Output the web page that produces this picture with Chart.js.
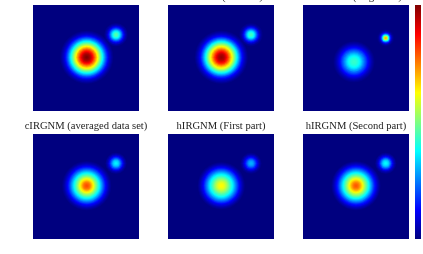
<!DOCTYPE html>
<html>
<head>
<meta charset="utf-8">
<script src="https://cdn.jsdelivr.net/npm/chart.js@4"></script>
<style>
    html, body { margin: 0; padding: 0; background: #fff; overflow: hidden; }
    .panel { position: absolute; width: 106px; height: 106px; }
    .panel canvas { filter: blur(0.4px); }
    .title {
        position: absolute; width: 160px; height: 13px; line-height: 13px; text-align: center;
        font-family: "Liberation Serif", serif; font-size: 10.6px; color: #222; filter: blur(0.3px);
    }
    #colorbar { position: absolute; left: 415px; top: 5px; width: 6px; height: 234px; }
</style>
</head>
<body>
<div id="figure"></div>
<div id="colorbar"><canvas></canvas></div>
<script>
// Panel titles
const panelTitles = ['Truth', 'cIRGNM (first run)', 'cIRGNM (single run)',
    'cIRGNM (averaged data set)', 'hIRGNM (First part)', 'hIRGNM (Second part)'];

// Blob centres in image units (0-106, y down)
const mainCentres = [[53.7, 52.3], [53.3, 52.3], [51, 56.7], [53.7, 52.2], [53.3, 52.2], [53, 52.2]];
const smallCentres = [[83, 29.7], [83, 29.7], [82.7, 33], [83, 29.6], [83, 29.6], [82.7, 29.6]];

// Colour level read at distance 0, 1, 2... from each blob centre
const mainTruth = [1, .995, .98, .965, .94, .91, .87, .83, .78, .73, .68, .63, .57, .52, .47, .42, .37, .32, .27, .22, .18, .14, .1, .07, .05, .03, .015];
const smallTruth = [.46, .45, .43, .39, .34, .28, .22, .16, .11, .07, .04, .02];
const mainFirstRun = [.98, .97, .96, .945, .92, .89, .85, .81, .76, .71, .66, .61, .56, .51, .46, .41, .36, .31, .26, .21, .17, .13, .1, .07, .05, .03, .015];
const smallFirstRun = [.44, .43, .41, .37, .32, .26, .2, .15, .1, .06, .03, .015];
const mainSingleRun = [.43, .425, .42, .41, .4, .385, .365, .34, .31, .28, .25, .22, .19, .16, .13, .105, .08, .06, .04, .025, .012];
const smallSingleRun = [.72, .67, .54, .38, .24, .14, .07, .03, .01];
const mainAveraged = [.8, .795, .78, .76, .73, .69, .65, .61, .565, .52, .48, .44, .4, .36, .32, .28, .24, .2, .165, .13, .1, .075, .05, .03, .015];
const smallAveraged = [.37, .36, .34, .31, .26, .21, .16, .11, .07, .04, .02];
const mainFirstPart = [.63, .625, .615, .6, .58, .555, .53, .5, .47, .44, .41, .38, .345, .31, .27, .235, .2, .165, .13, .1, .075, .05, .03, .015];
const smallFirstPart = [.3, .295, .28, .25, .21, .17, .13, .09, .06, .03, .015];
const mainSecondPart = [.79, .785, .77, .75, .72, .69, .65, .61, .57, .53, .49, .45, .41, .37, .33, .29, .25, .21, .17, .14, .11, .08, .055, .035, .015];
const smallSecondPart = [.38, .37, .35, .32, .27, .22, .16, .11, .07, .04, .02];

const mainProfiles = [mainTruth, mainFirstRun, mainSingleRun, mainAveraged, mainFirstPart, mainSecondPart];
const smallProfiles = [smallTruth, smallFirstRun, smallSingleRun, smallAveraged, smallFirstPart, smallSecondPart];

// Jet colormap
const jetLevels = [0, .125, .375, .625, .875, 1];
const jetColors = [[0, 0, 127], [0, 0, 255], [0, 255, 255], [255, 255, 0], [255, 0, 0], [127, 0, 0]];

function jet(level) {
    let i = 0;
    while (i < jetLevels.length - 2 && level > jetLevels[i + 1]) i++;
    const t = (level - jetLevels[i]) / (jetLevels[i + 1] - jetLevels[i]);
    const c = jetColors[i].map((v, k) => Math.round(v + (jetColors[i + 1][k] - v) * t));
    return `rgb(${c[0]}, ${c[1]}, ${c[2]})`;
}

// Concentric rings, outermost first so that inner rings paint on top
function ringsFrom(centre, profile) {
    const rings = profile.map((level, i) => ({ x: centre[0], y: centre[1], r: i + 0.5, level: level }));
    return rings.reverse();
}

function ringRadius(ctx) {
    const x = ctx.chart.scales.x;
    if (!x || !ctx.raw) return 0;
    return x.getPixelForValue(ctx.raw.r) - x.getPixelForValue(0);
}

// Image background at the lowest level
const imageBackground = {
    id: 'imageBackground',
    beforeDatasetsDraw(chart) {
        const a = chart.chartArea;
        chart.ctx.fillStyle = jet(0);
        chart.ctx.fillRect(a.left, a.top, a.right - a.left, a.bottom - a.top);
    }
};

function blobDataset(centre, profile) {
    return {
        data: ringsFrom(centre, profile),
        showLine: false,
        pointStyle: 'circle',
        pointBorderWidth: 0,
        pointRadius: ringRadius,
        pointHoverRadius: ringRadius,
        pointBackgroundColor: ctx => ctx.raw ? jet(ctx.raw.level) : jet(0)
    };
}

function createPanel(index) {
    const figure = document.getElementById('figure');
    const left = [33, 168, 303][index % 3];
    const top = index < 3 ? 5 : 134;

    // Title above the image, allowed to run wider than it
    const title = document.createElement('div');
    title.className = 'title';
    title.textContent = panelTitles[index];
    title.style.left = (left + 53 - 80) + 'px';
    title.style.top = (top - 15) + 'px';
    figure.appendChild(title);

    const panel = document.createElement('div');
    panel.className = 'panel';
    panel.style.left = left + 'px';
    panel.style.top = top + 'px';
    panel.style.height = index < 3 ? '106px' : '105px';
    const canvas = document.createElement('canvas');
    panel.appendChild(canvas);
    figure.appendChild(panel);

    new Chart(canvas, {
        type: 'scatter',
        data: {
            datasets: [
                blobDataset(mainCentres[index], mainProfiles[index]),
                blobDataset(smallCentres[index], smallProfiles[index])
            ]
        },
        options: {
            responsive: true,
            maintainAspectRatio: false,
            animation: false,
            plugins: { legend: { display: false }, tooltip: { enabled: false } },
            scales: {
                x: { type: 'linear', min: 0, max: 106, display: false },
                y: { type: 'linear', min: 0, max: 106, reverse: true, display: false }
            }
        },
        plugins: [imageBackground]
    });
}

// Colorbar, one bar over the whole range filled with the colormap
function createColorbar() {
    const canvas = document.querySelector('#colorbar canvas');
    new Chart(canvas, {
        type: 'bar',
        data: {
            labels: [''],
            datasets: [{
                data: [[0, 1]],
                barPercentage: 1,
                categoryPercentage: 1,
                backgroundColor(ctx) {
                    const a = ctx.chart.chartArea;
                    if (!a) return jet(0);
                    const gradient = ctx.chart.ctx.createLinearGradient(0, a.bottom, 0, a.top);
                    jetLevels.forEach(level => gradient.addColorStop(level, jet(level)));
                    return gradient;
                }
            }]
        },
        options: {
            responsive: true,
            maintainAspectRatio: false,
            animation: false,
            plugins: { legend: { display: false }, tooltip: { enabled: false } },
            scales: {
                x: { display: false },
                y: { min: 0, max: 1, display: false }
            }
        }
    });
}

panelTitles.forEach((title, index) => createPanel(index));
createColorbar();
</script>
</body>
</html>
